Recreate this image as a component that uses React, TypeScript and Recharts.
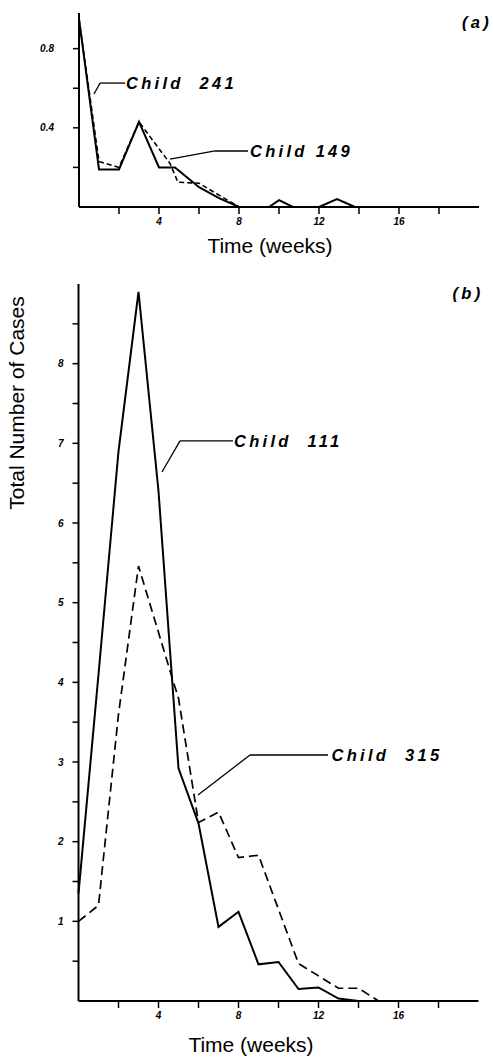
import React from 'react';
import { LineChart, Line, XAxis, YAxis, ReferenceLine, ReferenceDot } from 'recharts';

// Panel (a)
const weeksA241 = [0, 1, 2, 3, 4, 4.8, 6, 7, 8, 9.5, 10, 10.7, 12, 12.9, 13.8];
const casesA241 = [0.95, 0.19, 0.19, 0.43, 0.2, 0.2, 0.1, 0.045, 0, 0, 0.035, 0, 0, 0.04, 0];
const weeksA149 = [0, 1, 2, 3, 4.55, 4.95, 6, 8];
const casesA149 = [0.95, 0.23, 0.2, 0.43, 0.22, 0.125, 0.12, 0];

// Panel (b)
const weeksB111 = [0, 1, 2, 3, 4, 5, 6, 7, 8, 9, 10, 11, 12, 13, 14];
const casesB111 = [1.35, 4.1, 6.9, 8.9, 6.4, 2.92, 2.23, 0.93, 1.12, 0.46, 0.49, 0.15, 0.17, 0.03, 0];
const weeksB315 = [0, 1, 2, 3, 4.75, 5, 6, 7, 8, 9, 11, 13, 14, 15];
const casesB315 = [1.0, 1.2, 3.6, 5.46, 4.0, 3.8, 2.24, 2.37, 1.8, 1.83, 0.47, 0.16, 0.16, 0];

const xTicks = [2, 4, 6, 8, 10, 12, 14, 16, 18];
const xTickLabels = [4, 8, 12, 16];
const yTicksA = [0.2, 0.4, 0.6, 0.8];
const yTickLabelsA = [0.4, 0.8];
const yTicksB = [0.5, 1, 1.5, 2, 2.5, 3, 3.5, 4, 4.5, 5, 5.5, 6, 6.5, 7, 7.5, 8, 8.5];
const yTickLabelsB = [1, 2, 3, 4, 5, 6, 7, 8];

const seriesNames = ['Child\u00A0\u00A0241', 'Child 149', 'Child\u00A0\u00A0111', 'Child\u00A0\u00A0315'];
const panelLabels = ['(a)', '(b)'];
const axisTitleX = 'Time (weeks)';
const axisTitleY = 'Total Number of Cases';

const zip = (xs: number[], ys: number[]) => xs.map((w, i) => ({ week: w, v: ys[i] }));

const dataA241 = zip(weeksA241, casesA241);
const dataA149 = zip(weeksA149, casesA149);
const dataB111 = zip(weeksB111, casesB111);
const dataB315 = zip(weeksB315, casesB315);

const tickFont = { fontSize: 10, fontWeight: 'bold', fontStyle: 'italic', fill: '#000', fontFamily: 'Liberation Sans, Arial, sans-serif' };
const noteStyle = {
  fill: '#000',
  fontSize: 16.5,
  fontStyle: 'italic',
  fontWeight: 'bold',
  fontFamily: 'Liberation Sans, Arial, sans-serif',
  style: { letterSpacing: '3.3px' },
};
const titleFont = { fill: '#000', fontSize: 21, fontFamily: 'Liberation Sans, Arial, sans-serif' };

const fmtX = (v: number) => (xTickLabels.includes(v) ? String(v) : '');
const fmtYA = (v: number) => (yTickLabelsA.includes(v) ? String(v) : '');
const fmtYB = (v: number) => (yTickLabelsB.includes(v) ? String(v) : '');

const leader = (pts: { x: number; y: number }[], key: string) =>
  pts.slice(1).map((p, i) => (
    <ReferenceLine
      key={key + i}
      segment={[pts[i], p]}
      stroke="#000"
      strokeWidth={1.3}
      ifOverflow="visible"
    />
  ));

const note = (x: number, y: number, text: string, position: any = 'right') => (
  <ReferenceDot
    x={x}
    y={y}
    r={0}
    fill="none"
    stroke="none"
    ifOverflow="visible"
    label={{ value: text, position, offset: 1, ...noteStyle }}
  />
);

export default function App() {
  return (
    <div style={{ position: 'absolute', left: 0, top: 0, width: 494, height: 1057, background: '#fff' }}>
      <div style={{ position: 'absolute', left: 0, top: 0 }}>
        <LineChart width={494} height={262} margin={{ top: 13, right: 15, left: 19, bottom: 25 }}>
          <XAxis
            type="number"
            dataKey="week"
            domain={[0, 20]}
            ticks={xTicks}
            interval={0}
            tickFormatter={fmtX}
            height={30}
            tickSize={7}
            tickMargin={4}
            tick={tickFont}
            axisLine={{ stroke: '#000', strokeWidth: 2 }}
            tickLine={{ stroke: '#000', strokeWidth: 1.5 }}
            label={{ value: axisTitleX, position: 'bottom', offset: 1, dx: -9, ...titleFont }}
          />
          <YAxis
            type="number"
            domain={[0, 0.98]}
            ticks={yTicksA}
            interval={0}
            tickFormatter={fmtYA}
            width={60}
            tickSize={6}
            tickMargin={19}
            tick={tickFont}
            axisLine={{ stroke: '#000', strokeWidth: 2 }}
            tickLine={{ stroke: '#000', strokeWidth: 1.5 }}
          />
          <Line data={dataA149} dataKey="v" type="linear" stroke="#000" strokeWidth={1.6} strokeDasharray="5 3" dot={false} isAnimationActive={false} />
          <Line data={dataA241} dataKey="v" type="linear" stroke="#000" strokeWidth={2} dot={false} isAnimationActive={false} />
          {leader([{ x: 0.75, y: 0.571 }, { x: 1.05, y: 0.626 }, { x: 2.3, y: 0.626 }], 'l241')}
          {leader([{ x: 4.55, y: 0.242 }, { x: 6.8, y: 0.283 }, { x: 8.45, y: 0.283 }], 'l149')}
          {note(2.3, 0.626, seriesNames[0])}
          {note(8.5, 0.283, seriesNames[1])}
          {note(19.9, 0.935, panelLabels[0], 'center')}
        </LineChart>
      </div>
      <div style={{ position: 'absolute', left: 0, top: 262 }}>
        <LineChart width={494} height={795} margin={{ top: 22, right: 15.5, left: 18.5, bottom: 26 }}>
          <XAxis
            type="number"
            dataKey="week"
            domain={[0, 20]}
            ticks={xTicks}
            interval={0}
            tickFormatter={fmtX}
            height={30}
            tickSize={7}
            tickMargin={4}
            tick={tickFont}
            axisLine={{ stroke: '#000', strokeWidth: 2 }}
            tickLine={{ stroke: '#000', strokeWidth: 1.5 }}
            label={{ value: axisTitleX, position: 'bottom', offset: 6, dx: -27.5, ...titleFont }}
          />
          <YAxis
            type="number"
            domain={[0, 9]}
            ticks={yTicksB}
            interval={0}
            tickFormatter={fmtYB}
            width={60}
            tickSize={6}
            tickMargin={9}
            tick={tickFont}
            axisLine={{ stroke: '#000', strokeWidth: 2 }}
            tickLine={{ stroke: '#000', strokeWidth: 1.5 }}
            label={{ value: axisTitleY, angle: -90, position: 'center', dx: -31.5, dy: -239.5, ...titleFont }}
          />
          <Line data={dataB315} dataKey="v" type="linear" stroke="#000" strokeWidth={1.7} strokeDasharray="9 5" dot={false} isAnimationActive={false} />
          <Line data={dataB111} dataKey="v" type="linear" stroke="#000" strokeWidth={2} dot={false} isAnimationActive={false} />
          {leader([{ x: 4.175, y: 6.64 }, { x: 5.075, y: 7.03 }, { x: 7.725, y: 7.03 }], 'l111')}
          {leader([{ x: 5.975, y: 2.585 }, { x: 8.575, y: 3.088 }, { x: 12.475, y: 3.088 }], 'l315')}
          {note(7.725, 7.03, seriesNames[2])}
          {note(12.6, 3.088, seriesNames[3])}
          {note(19.475, 8.887, panelLabels[1], 'center')}
        </LineChart>
      </div>
    </div>
  );
}
